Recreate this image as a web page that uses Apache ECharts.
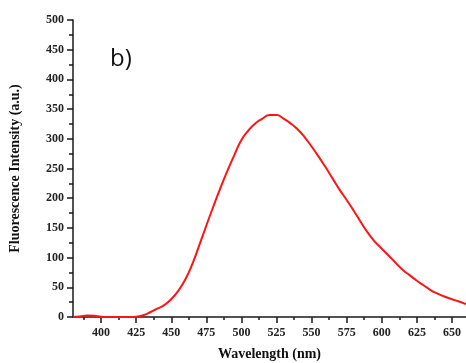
<!DOCTYPE html>
<html>
<head>
<meta charset="utf-8">
<script src="https://cdn.jsdelivr.net/npm/echarts@6/dist/echarts.min.js"></script>
<style>
html,body{margin:0;padding:0;background:#fff;}
#c{width:466px;height:363px;}
</style>
</head>
<body>
<div id="c"></div>
<script>
const wavelengths = [380,385,390,395,400,405,410,415,420,425,430,435,440,445,450,455,460,465,470,475,480,485,490,495,500,505,510,515,520,525,530,535,540,545,550,555,560,565,570,575,580,585,590,595,600,605,610,615,620,625,630,635,640,645,650,655,660];
const intensity = [0,1,2.5,2,0.5,0,0,0,0,0.5,3,8,14,20,30,44,63,89,121,154,186,217,246,273,298,314,326,334,340,340,334,326,316,303,287,270,252,233,214,197,179,160,142,127,115,103,91,79,70,61,53,45,39,34,30,26,22];
const xMajorTicks = [400,425,450,475,500,525,550,575,600,625,650];
const xMinorTicks = [387.5,412.5,437.5,462.5,487.5,512.5,537.5,562.5,587.5,612.5,637.5,662.5];
const xTitle = 'Wavelength (nm)';
const yTitle = 'Fluorescence Intensity (a.u.)';
const panelLabel = 'b)';

const serif = '"Liberation Serif", "DejaVu Serif", serif';
const chart = echarts.init(document.getElementById('c'), null, {renderer:'canvas'});
const lineStyle = {color:'#1a1a1a', width:1.5};
chart.setOption({
  animation:false,
  backgroundColor:'#ffffff',
  grid:{left:73, right:0, top:20, bottom:46, outerBoundsMode:'none', containLabel:false},
  xAxis:[{
    type:'value', min:380, max:660,
    axisLine:{show:true, onZero:false, lineStyle:lineStyle},
    axisTick:{show:true, inside:false, length:6, customValues:xMajorTicks, lineStyle:lineStyle},
    axisLabel:{customValues:xMajorTicks, fontFamily:serif, fontWeight:'bold', fontSize:12, color:'#222', margin:10},
    splitLine:{show:false},
    name:xTitle, nameLocation:'middle', nameGap:30,
    nameTextStyle:{fontFamily:serif, fontWeight:'bold', fontSize:14, color:'#111'}
  },{
    type:'value', min:380, max:660, position:'bottom',
    axisLine:{show:false},
    axisTick:{show:true, inside:false, length:3, customValues:xMinorTicks, lineStyle:lineStyle},
    axisLabel:{show:false},
    splitLine:{show:false}
  }],
  yAxis:{
    type:'value', min:0, max:500, interval:50,
    axisLine:{show:true, onZero:false, lineStyle:lineStyle},
    axisTick:{show:true, inside:false, length:6, lineStyle:lineStyle},
    minorTick:{show:true, splitNumber:2, length:4, lineStyle:lineStyle},
    axisLabel:{fontFamily:serif, fontWeight:'bold', fontSize:12, color:'#222', margin:9},
    splitLine:{show:false},
    name:yTitle, nameLocation:'middle', nameGap:51,
    nameTextStyle:{fontFamily:serif, fontWeight:'bold', fontSize:14, color:'#111'}
  },
  graphic:[
    {type:'rect', shape:{x:90, y:26, width:88, height:66}, style:{fill:'#ffffff'}, z:5},
    {type:'text', left:110, top:47, style:{text:panelLabel, font:'24px "Open Sans", "Liberation Sans", sans-serif', fill:'#111'}, z:6}
  ],
  series:[{
    type:'line',
    xAxisIndex:0,
    data:wavelengths.map((w,i)=>[w,intensity[i]]),
    smooth:0.5,
    showSymbol:false,
    lineStyle:{color:'#ff1414', width:2},
    z:3
  }]
});
</script>
</body>
</html>
